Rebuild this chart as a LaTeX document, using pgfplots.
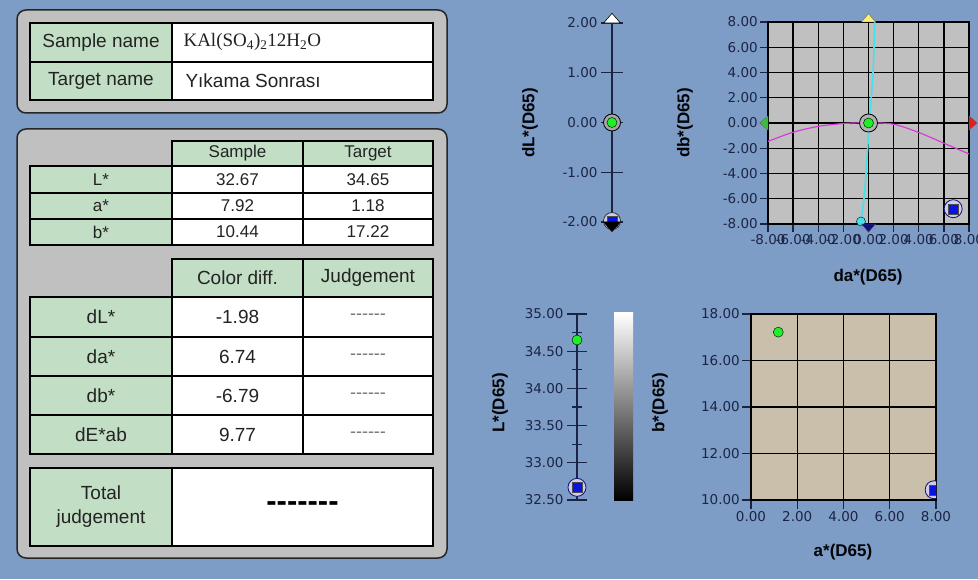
\documentclass[border=0pt]{standalone}
\usepackage{fontspec}
\setmainfont{Liberation Sans}
\newfontfamily\serifA{Liberation Serif}
\newfontfamily\tickfont{DejaVu Sans}
\usepackage{pgfplots}
\pgfplotsset{compat=1.18}

\definecolor{bg}{RGB}{126,157,198}
\definecolor{panel}{RGB}{192,192,192}
\definecolor{cellg}{RGB}{194,222,196}
\definecolor{navy}{RGB}{28,36,70}
\definecolor{txt}{RGB}{35,35,35}
\definecolor{plotgray}{RGB}{192,192,192}
\definecolor{tanbg}{RGB}{201,191,170}
\definecolor{mgreen}{RGB}{30,240,40}
\definecolor{mblue}{RGB}{10,20,225}
\definecolor{ring}{RGB}{205,205,232}
\definecolor{cyanl}{RGB}{70,225,235}
\definecolor{magl}{RGB}{215,60,215}
\definecolor{tgreen}{RGB}{60,190,60}
\definecolor{tred}{RGB}{225,30,30}
\definecolor{tyellow}{RGB}{255,240,110}
\definecolor{tnavy}{RGB}{15,15,120}

\newcommand\cell[6]{%
  \filldraw[fill=#5,draw=black,line width=1.6pt] (#1,{579-#2}) rectangle (#3,{579-#4});
  \node[text=txt,align=center,inner sep=0pt] at ({(#1+#3)/2},{579-(#2+#4)/2}) {#6};}

\newcommand\bigf{\fontsize{19}{21}\selectfont}
\newcommand\smlf{\fontsize{17}{18}\selectfont}
\newcommand\dsh{{\fontsize{18}{18}\selectfont\color{black!55}-{}-{}-{}-{}-{}-}}

\pgfplotsset{
  fmt/.style={/pgf/number format/assume math mode=true,
    yticklabel={\pgfmathprintnumber[fixed,fixed zerofill,precision=2]{\tick}},
    xticklabel={\pgfmathprintnumber[fixed,fixed zerofill,precision=2]{\tick}},
    ticklabel style={font=\tickfont\fontsize{13.5}{14}\selectfont, text=navy}},
  scalebar/.style={fmt, scale only axis, xmin=0, xmax=1, width=10pt,
    axis x line=none, axis y line=left,
    axis line style={-, line width=1.3pt, draw=navy},
    ytick align=center, clip=false,
    tick style={line width=1.3pt, draw=navy}},
  boxplot/.style={fmt, scale only axis, grid=major,
    major grid style={black, line width=1.3pt},
    axis line style={black, line width=1.3pt},
    tick align=outside, major tick length=8pt, tick pos=left,
    tick style={navy, line width=1.3pt},
    xticklabel style={inner sep=2pt},
    yticklabel style={inner sep=2pt}},
}

\begin{document}
\begin{tikzpicture}[x=1pt,y=1pt]
\fill[bg] (0,0) rectangle (978,579);

% ---------- left panels ----------
\filldraw[fill=panel,draw=black!85,line width=1.5pt,rounded corners=9pt] (17,{579-10}) rectangle (447,{579-113});
\filldraw[fill=panel,draw=black!85,line width=1.5pt,rounded corners=9pt] (17,{579-129}) rectangle (447,{579-558});

\cell{30}{23}{172}{62}{cellg}{\bigf Sample name}
\cell{172}{23}{433}{62}{white}{}
\node[anchor=west,text=txt] at (180,{579-42}) {\serifA\fontsize{19}{21}\selectfont KAl(SO\textsubscript{4})\textsubscript{2}12H\textsubscript{2}O};
\cell{30}{62}{172}{100}{cellg}{\bigf Target name}
\cell{172}{62}{433}{100}{white}{}
\node[anchor=west,text=txt] at (182,{579-81}) {\bigf Yıkama Sonrası};

\cell{172}{141}{303}{166}{cellg}{\smlf Sample}
\cell{303}{141}{433}{166}{cellg}{\smlf Target}
\cell{30}{166}{172}{193}{cellg}{\smlf L*}
\cell{172}{166}{303}{193}{white}{\smlf 32.67}
\cell{303}{166}{433}{193}{white}{\smlf 34.65}
\cell{30}{193}{172}{219}{cellg}{\smlf a*}
\cell{172}{193}{303}{219}{white}{\smlf 7.92}
\cell{303}{193}{433}{219}{white}{\smlf 1.18}
\cell{30}{219}{172}{245}{cellg}{\smlf b*}
\cell{172}{219}{303}{245}{white}{\smlf 10.44}
\cell{303}{219}{433}{245}{white}{\smlf 17.22}

\cell{172}{259}{303}{297}{cellg}{\bigf Color diff.}
\cell{303}{259}{433}{297}{cellg}{\bigf Judgement}
\cell{30}{297}{172}{337}{cellg}{\bigf dL*}
\cell{172}{297}{303}{337}{white}{\bigf -1.98}
\cell{303}{297}{433}{337}{white}{\dsh}
\cell{30}{337}{172}{376}{cellg}{\bigf da*}
\cell{172}{337}{303}{376}{white}{\bigf 6.74}
\cell{303}{337}{433}{376}{white}{\dsh}
\cell{30}{376}{172}{415}{cellg}{\bigf db*}
\cell{172}{376}{303}{415}{white}{\bigf -6.79}
\cell{303}{376}{433}{415}{white}{\dsh}
\cell{30}{415}{172}{454}{cellg}{\bigf dE*ab}
\cell{172}{415}{303}{454}{white}{\bigf 9.77}
\cell{303}{415}{433}{454}{white}{\dsh}
\cell{30}{468}{172}{546}{cellg}{\bigf Total\\[9pt]\bigf judgement}
\cell{172}{468}{433}{546}{white}{\fontsize{31}{31}\selectfont\bfseries\color{black}-{}-{}-{}-{}-{}-{}-}

% ---------- chart A : dL* ----------
\begin{axis}[scalebar, at={(612pt,357pt)}, anchor=south west, height=199pt,
  ymin=-2, ymax=2, ytick={-2,-1,0,1,2}, major tick length=22pt]
\addplot[only marks, mark=triangle*, mark size=6.5pt,
  mark options={fill=white, draw=black, line width=0.6pt, xscale=1.5, yshift=3.2pt}] coordinates {(0,2)};
\addplot[only marks, mark=*, mark size=8.5pt,
  mark options={fill=ring, draw=black!80, line width=0.8pt}] coordinates {(0,-1.98)};
\addplot[only marks, mark=square*, mark size=5pt,
  mark options={fill=mblue, draw=black!70}] coordinates {(0,-1.98)};
\addplot[only marks, mark=triangle*, mark size=6.5pt,
  mark options={fill=black, draw=black, rotate=180, xscale=1.5, yshift=3.2pt}] coordinates {(0,-2)};
\addplot[only marks, mark=*, mark size=8.5pt,
  mark options={fill=black!35, draw=black, line width=0.8pt}] coordinates {(0,0)};
\addplot[only marks, mark=*, mark size=5pt,
  mark options={fill=mgreen, draw=none}] coordinates {(0,0)};
\end{axis}

% ---------- chart B : da*/db* ----------
\begin{axis}[boxplot, at={(768pt,355pt)}, anchor=south west, width=201pt, height=202pt,
  xmin=-8, xmax=8, ymin=-8, ymax=8, xtick={-8,-6,...,8}, ytick={-8,-6,...,8},
  axis background/.style={fill=plotgray}, clip=false]
\addplot[magl, line width=1.2pt, smooth] coordinates {
  (-8,-1.46) (-6,-0.73) (-4,-0.27) (-2,-0.04) (0,0.02) (2,-0.1) (4,-0.75) (6,-1.6) (8,-2.45)};
\addplot[cyanl, line width=1.6pt, smooth] coordinates {
  (0.5,8) (0.36,4) (0.1,0.5) (-0.2,-4) (-0.36,-6) (-0.6,-7.7)};
\addplot[only marks, mark=*, mark size=4.5pt, mark options={fill=cyanl, draw=none}] coordinates {(-0.6,-7.8)};
\addplot[only marks, mark=triangle*, mark size=5.5pt,
  mark options={fill=tgreen, draw=black!60, rotate=90, xscale=1.5, yshift=2.75pt}] coordinates {(-8,0)};
\addplot[only marks, mark=triangle*, mark size=5.5pt,
  mark options={fill=tred, draw=black!60, rotate=-90, xscale=1.5, yshift=2.75pt}] coordinates {(8,0)};
\addplot[only marks, mark=triangle*, mark size=5.5pt,
  mark options={fill=tyellow, draw=black!60, xscale=1.5, yshift=2.75pt}] coordinates {(0,8)};
\addplot[only marks, mark=triangle*, mark size=5.5pt,
  mark options={fill=tnavy, draw=black!60, rotate=180, xscale=1.5, yshift=2.75pt}] coordinates {(0,-8)};
\addplot[only marks, mark=*, mark size=9pt,
  mark options={fill=black!30, draw=black, line width=0.8pt}] coordinates {(0,0)};
\addplot[only marks, mark=*, mark size=5pt,
  mark options={fill=mgreen, draw=none}] coordinates {(0,0)};
\addplot[only marks, mark=*, mark size=9pt,
  mark options={fill=ring, draw=tnavy, line width=0.8pt}] coordinates {(6.74,-6.79)};
\addplot[only marks, mark=square*, mark size=5pt,
  mark options={fill=mblue, draw=black!70}] coordinates {(6.74,-6.79)};
\end{axis}

% ---------- chart C : L* ----------
\begin{axis}[scalebar, at={(577pt,79pt)}, anchor=south west, height=186pt,
  ymin=32.5, ymax=35, ytick={32.5,33,...,35}, minor y tick num=1,
  major tick length=20pt, minor tick length=10pt]
\addplot[only marks, mark=*, mark size=5pt,
  mark options={fill=mgreen, draw=none}] coordinates {(0,34.65)};
\addplot[only marks, mark=*, mark size=9pt,
  mark options={fill=ring, draw=tnavy, line width=0.8pt}] coordinates {(0,32.67)};
\addplot[only marks, mark=square*, mark size=5pt,
  mark options={fill=mblue, draw=black!70}] coordinates {(0,32.67)};
\end{axis}
\shade[top color=white, bottom color=black] (614,{579-313}) rectangle (633,{579-500});

% ---------- chart D : a*/b* ----------
\begin{axis}[boxplot, at={(751pt,79pt)}, anchor=south west, width=185pt, height=186pt,
  xmin=0, xmax=8, ymin=10, ymax=18, xtick={0,2,...,8}, ytick={10,12,...,18},
  major tick length=9pt,
  axis background/.style={fill=tanbg}, clip=true, clip marker paths=true]
\addplot[only marks, mark=*, mark size=5pt,
  mark options={fill=mgreen, draw=none}] coordinates {(1.18,17.22)};
\addplot[only marks, mark=*, mark size=9pt,
  mark options={fill=ring, draw=tnavy, line width=0.8pt}] coordinates {(7.92,10.44)};
\addplot[only marks, mark=square*, mark size=5pt,
  mark options={fill=mblue, draw=black!70}] coordinates {(7.92,10.44)};
\end{axis}

% ---------- axis titles ----------
\begin{scope}[every node/.style={font=\bfseries\fontsize{17}{18}\selectfont, text=black!90!navy}]
\node[rotate=90] at (530,{579-123}) {dL*(D65)};
\node[rotate=90] at (685,{579-123}) {db*(D65)};
\node at (868,{579-277}) {da*(D65)};
\node[rotate=90] at (500,{579-403}) {L*(D65)};
\node[rotate=90] at (660,{579-403}) {b*(D65)};
\node at (843,{579-552}) {a*(D65)};
\end{scope}

\pgfresetboundingbox
\path[use as bounding box] (0,0) rectangle (978,579);
\end{tikzpicture}
\end{document}
